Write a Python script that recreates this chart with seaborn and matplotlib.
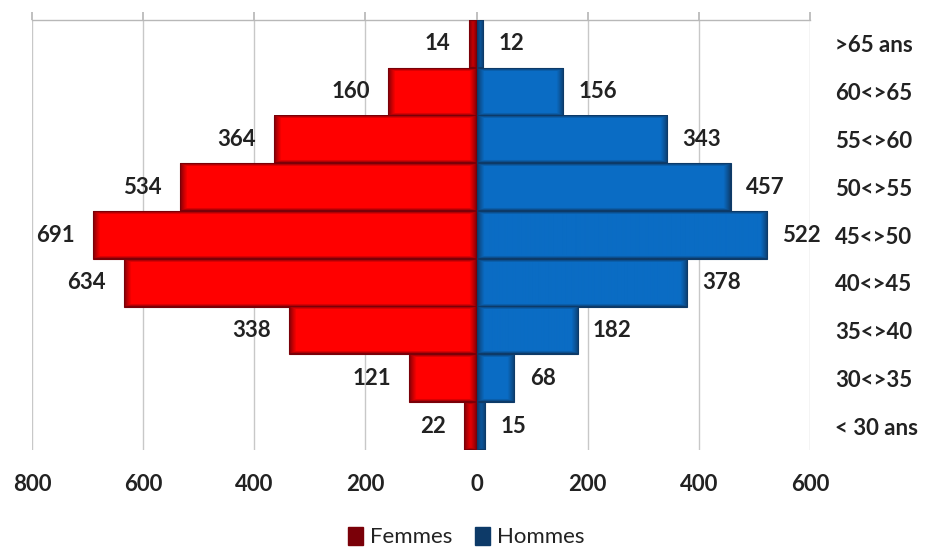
import numpy as np
import pandas as pd
import matplotlib
matplotlib.use("Agg")
import matplotlib.pyplot as plt
import matplotlib.colors as mcolors
import matplotlib.patches as mpatches
import seaborn as sns

# Age groups, top to bottom as in the pyramid
AGE_GROUPS = [">65 ans", "60<>65", "55<>60", "50<>55", "45<>50",
              "40<>45", "35<>40", "30<>35", "< 30 ans"]
FEMMES = [14, 160, 364, 534, 691, 634, 338, 121, 22]
HOMMES = [12, 156, 343, 457, 522, 378, 182, 68, 15]
X_TICKS = [-800, -600, -400, -200, 0, 200, 400, 600]

RED, RED_DARK = "#ff0000", "#7a0008"
BLUE, BLUE_DARK = "#0a6cc4", "#0d3a68"

sns.set_theme(style="white")
plt.rcParams["font.family"] = ["Lato", "DejaVu Sans"]

df = pd.DataFrame({"age": AGE_GROUPS,
                   "femmes": [-v for v in FEMMES],
                   "hommes": HOMMES})

fig = plt.figure(figsize=(9.29, 5.52), dpi=100)
ax = fig.add_axes([32 / 929, 1 - 450 / 552, 778 / 929, 430 / 552])

sns.barplot(data=df, x="femmes", y="age", order=AGE_GROUPS, color=RED,
            width=1.0, orient="h", ax=ax, saturation=1, zorder=2)
sns.barplot(data=df, x="hommes", y="age", order=AGE_GROUPS, color=BLUE,
            width=1.0, orient="h", ax=ax, saturation=1, zorder=2)

ax.set_xlim(-800, 600)
ax.set_ylim(len(AGE_GROUPS) - 0.5, -0.5)

# shaded "bevel" look: dark at the edges, bright in the middle
px_per_x = 778 / 1400
px_per_y = 430 / len(AGE_GROUPS)
for p in list(ax.patches):
    x0, y0 = p.get_x(), p.get_y()
    w, h = p.get_width(), p.get_height()
    left, right = min(x0, x0 + w), max(x0, x0 + w)
    bright, dark = (RED, RED_DARK) if left < 0 else (BLUE, BLUE_DARK)
    nx = max(int(round((right - left) * px_per_x)), 2)
    ny = max(int(round(abs(h) * px_per_y)), 2)
    ix = np.arange(nx)
    iy = np.arange(ny)
    dx = np.minimum(ix, nx - 1 - ix)[None, :]
    dy = np.minimum(iy, ny - 1 - iy)[:, None]
    d = np.minimum(dx / 7.0, dy / 3.0)
    t = np.clip(d, 0, 1) ** 0.8
    c1 = np.array(mcolors.to_rgb(dark))
    c2 = np.array(mcolors.to_rgb(bright))
    img = c1[None, None, :] * (1 - t[..., None]) + c2[None, None, :] * t[..., None]
    ax.imshow(img, extent=(left, right, y0 + h, y0), aspect="auto",
              interpolation="bilinear", zorder=3)
    p.set_edgecolor(dark)
    p.set_linewidth(0.8)

ax.set_xlim(-800, 600)
ax.set_ylim(len(AGE_GROUPS) - 0.5, -0.5)

# value labels
lab_font = dict(fontsize=16, fontweight="bold", color="#222222", va="center")
for i, (f, h) in enumerate(zip(FEMMES, HOMMES)):
    ax.annotate(str(f), (-f, i), xytext=(-13, 0), textcoords="offset points",
                ha="right", zorder=5, **lab_font)
    ax.annotate(str(h), (h, i), xytext=(11, 0), textcoords="offset points",
                ha="left", zorder=5, **lab_font)

# axes styling
ax.set_xticks(X_TICKS)
ax.set_xticklabels([str(abs(v)) for v in X_TICKS], fontsize=16,
                   fontweight="bold", color="#222222")
ax.tick_params(axis="x", top=True, bottom=False, labeltop=False,
               labelbottom=True, direction="out", length=6,
               color="#b8b8b8", pad=11)
ax.xaxis.grid(True, color="#c8c8c8", linewidth=1, zorder=0)
ax.set_axisbelow(True)
ax.yaxis.tick_right()
ax.tick_params(axis="y", length=0, pad=18, labelsize=16)
for lbl in ax.get_yticklabels():
    lbl.set_fontweight("bold")
    lbl.set_color("#222222")
ax.set_xlabel("")
ax.set_ylabel("")
for side in ("left", "right", "bottom"):
    ax.spines[side].set_visible(False)
ax.spines["top"].set_color("#b8b8b8")
ax.spines["top"].set_linewidth(1)

handles = [mpatches.Patch(color=RED_DARK, label="Femmes"),
           mpatches.Patch(color=BLUE_DARK, label="Hommes")]
leg = fig.legend(handles=handles, loc="center",
                 bbox_to_anchor=(466 / 929, 1 - 537 / 552),
                 ncol=2, frameon=False, fontsize=16, handlelength=0.7,
                 handleheight=0.9, handletextpad=0.3, columnspacing=1.0)
for txt in leg.get_texts():
    txt.set_color("#222222")

fig.savefig("out.png", dpi=100)
